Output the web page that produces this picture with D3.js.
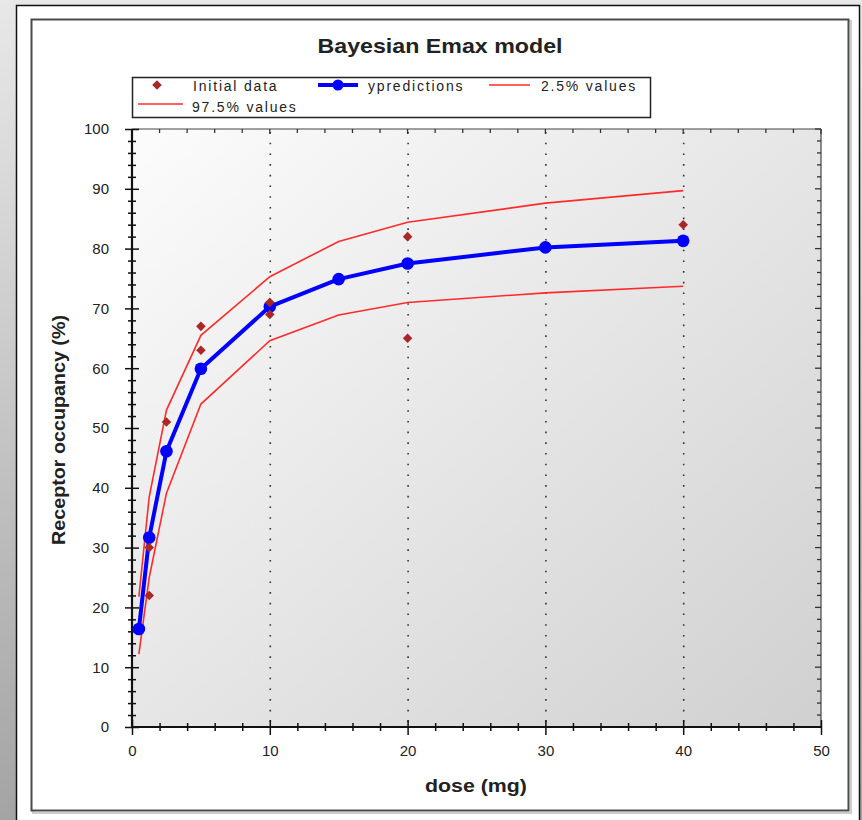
<!DOCTYPE html>
<html>
<head>
<meta charset="utf-8">
<script src="https://cdn.jsdelivr.net/npm/d3@7"></script>
<style>
  html, body { margin: 0; padding: 0; }
  body { width: 862px; height: 820px; overflow: hidden; }
  text { font-family: "Liberation Sans", Arial, sans-serif; }
</style>
</head>
<body>
<div id="chart"></div>
<script>
// dose levels and values
var obsDose = [1.25, 1.25, 2.5, 5, 5, 10, 10, 20, 20, 40];
var obsValue = [30, 22, 51, 67, 63, 71, 69, 82, 65, 84];

var predDose = [0.5, 1.25, 2.5, 5, 10, 15, 20, 30, 40];
var yPred = [16.4, 31.7, 46.1, 59.9, 70.3, 74.9, 77.5, 80.2, 81.3];
var lower025 = [12.2, 25, 39.1, 54.0, 64.6, 68.9, 71.0, 72.6, 73.7];
var upper975 = [21.8, 38.5, 53.0, 65.5, 75.3, 81.2, 84.4, 87.6, 89.7];

var xMajor = [0, 10, 20, 30, 40, 50];
var yMajor = [0, 10, 20, 30, 40, 50, 60, 70, 80, 90, 100];
var gridDoses = [10, 20, 30, 40];

var W = 862, H = 820;
var pLeft = 132, pRight = 821, pTop = 129, pBottom = 727;

var svg = d3.select("#chart").append("svg")
    .attr("width", W)
    .attr("height", H);

var defs = svg.append("defs");
var pageGrad = defs.append("linearGradient").attr("id", "pageGrad")
    .attr("x1", 0).attr("y1", 0).attr("x2", 0).attr("y2", 1);
pageGrad.append("stop").attr("offset", "0%").attr("stop-color", "#e8e8e8");
pageGrad.append("stop").attr("offset", "100%").attr("stop-color", "#a4a4a4");

var plotGrad = defs.append("linearGradient").attr("id", "plotGrad")
    .attr("x1", 0).attr("y1", 0).attr("x2", 1).attr("y2", 1);
plotGrad.append("stop").attr("offset", "0%").attr("stop-color", "#fcfcfc");
plotGrad.append("stop").attr("offset", "100%").attr("stop-color", "#d0d0d0");

// page background + white panel + frame
svg.append("rect").attr("width", W).attr("height", H).attr("fill", "url(#pageGrad)");
svg.append("rect")
    .attr("x", 16.5).attr("y", 5.5).attr("width", 843).attr("height", 830)
    .attr("fill", "#fff").attr("stroke", "#111").attr("stroke-width", 1.5);
svg.append("rect")
    .attr("x", 33).attr("y", 21).attr("width", 818).attr("height", 792)
    .attr("fill", "none").attr("stroke", "#ccc").attr("stroke-width", 2);
svg.append("rect")
    .attr("x", 31.5).attr("y", 19.5).attr("width", 817).attr("height", 791)
    .attr("fill", "#fff").attr("stroke", "#4a4a4a").attr("stroke-width", 2);

var x = d3.scaleLinear().domain([0, 50]).range([pLeft, pRight]);
var y = d3.scaleLinear().domain([0, 100]).range([pBottom, pTop]);

// plot area
svg.append("rect")
    .attr("x", pLeft).attr("y", pTop)
    .attr("width", pRight - pLeft).attr("height", pBottom - pTop)
    .attr("fill", "url(#plotGrad)");

// dotted vertical grid
svg.append("g").selectAll("line").data(gridDoses).enter().append("line")
    .attr("x1", function(d) { return x(d) + 0.5; })
    .attr("x2", function(d) { return x(d) + 0.5; })
    .attr("y1", pTop + 3).attr("y2", pBottom)
    .attr("stroke", "#333").attr("stroke-width", 1.6)
    .attr("stroke-dasharray", "1.6,9.1");

// top and right border with inward ticks
var minorX = d3.range(0, 51, 2);
var minorY = d3.range(0, 101, 2);
svg.append("line").attr("x1", pLeft).attr("x2", pRight).attr("y1", pTop).attr("y2", pTop)
    .attr("stroke", "#444").attr("stroke-width", 1.2);
svg.append("line").attr("x1", pRight).attr("x2", pRight).attr("y1", pTop).attr("y2", pBottom)
    .attr("stroke", "#444").attr("stroke-width", 1.2);
svg.append("g").selectAll("line").data(minorX).enter().append("line")
    .attr("x1", function(d) { return x(d); }).attr("x2", function(d) { return x(d); })
    .attr("y1", pTop).attr("y2", function(d) { return pTop + (d % 10 === 0 ? 5 : 4); })
    .attr("stroke", "#333").attr("stroke-width", 1.3);
svg.append("g").selectAll("line").data(minorY).enter().append("line")
    .attr("y1", function(d) { return y(d); }).attr("y2", function(d) { return y(d); })
    .attr("x1", pRight).attr("x2", function(d) { return pRight - (d % 10 === 0 ? 6 : 4); })
    .attr("stroke", "#333").attr("stroke-width", 1.3);

// left axis
var yAxisMinor = svg.append("g").attr("transform", "translate(" + pLeft + ",0)")
    .call(d3.axisLeft(y).tickValues(minorY.filter(function(d) { return d % 10 !== 0; }))
        .tickSize(4).tickFormat(""));
yAxisMinor.selectAll(".tick line").attr("x2", -4).attr("x1", 4)
    .attr("stroke", "#111").attr("stroke-width", 1.5);
yAxisMinor.select(".domain").remove();

var yAxis = svg.append("g").attr("transform", "translate(" + pLeft + ",0)")
    .call(d3.axisLeft(y).tickValues(yMajor).tickSize(7).tickPadding(16));
yAxis.selectAll(".tick line").attr("x1", 7).attr("stroke", "#111").attr("stroke-width", 1.5);
yAxis.select(".domain").remove();
yAxis.selectAll("text").attr("font-size", 15).attr("fill", "#222")
    .attr("font-family", "'Liberation Sans', Arial, sans-serif");

// bottom axis
var xAxisMinor = svg.append("g").attr("transform", "translate(0," + pBottom + ")")
    .call(d3.axisBottom(x).tickValues(minorX.filter(function(d) { return d % 10 !== 0; }))
        .tickSize(4).tickFormat(""));
xAxisMinor.selectAll(".tick line").attr("y1", -4).attr("y2", 4)
    .attr("stroke", "#111").attr("stroke-width", 1.5);
xAxisMinor.select(".domain").remove();

var xAxis = svg.append("g").attr("transform", "translate(0," + pBottom + ")")
    .call(d3.axisBottom(x).tickValues(xMajor).tickSize(8).tickPadding(10));
xAxis.selectAll(".tick line").attr("y1", -7).attr("stroke", "#111").attr("stroke-width", 1.5);
xAxis.select(".domain").remove();
xAxis.selectAll("text").attr("font-size", 15).attr("fill", "#222")
    .attr("font-family", "'Liberation Sans', Arial, sans-serif");

svg.append("line").attr("x1", pLeft).attr("x2", pLeft).attr("y1", pTop).attr("y2", pBottom + 1)
    .attr("stroke", "#111").attr("stroke-width", 2.2);
svg.append("line").attr("x1", pLeft - 1).attr("x2", pRight + 1).attr("y1", pBottom).attr("y2", pBottom)
    .attr("stroke", "#111").attr("stroke-width", 2.2);

// series
var line = d3.line()
    .x(function(d) { return x(d[0]); })
    .y(function(d) { return y(d[1]); });

[lower025, upper975].forEach(function(vals) {
    svg.append("path")
        .datum(predDose.map(function(d, i) { return [d, vals[i]]; }))
        .attr("d", line)
        .attr("fill", "none").attr("stroke", "#ff2b2b").attr("stroke-width", 1.6);
});

var predPts = predDose.map(function(d, i) { return [d, yPred[i]]; });
svg.append("path").datum(predPts).attr("d", line)
    .attr("fill", "none").attr("stroke", "#0000ff").attr("stroke-width", 4)
    .attr("stroke-linejoin", "round");
svg.append("g").selectAll("circle").data(predPts).enter().append("circle")
    .attr("cx", function(d) { return x(d[0]); })
    .attr("cy", function(d) { return y(d[1]); })
    .attr("r", 6.3).attr("fill", "#0000ff");

var diamond = d3.symbol().type(d3.symbolSquare).size(46);
svg.append("g").selectAll("path").data(obsDose).enter().append("path")
    .attr("d", diamond)
    .attr("transform", function(d, i) {
        return "translate(" + x(d) + "," + y(obsValue[i]) + ") rotate(45)";
    })
    .attr("fill", "#a82828");

// titles
svg.append("text").attr("x", 440).attr("y", 53).attr("text-anchor", "middle")
    .attr("font-size", 21).attr("font-weight", "bold").attr("fill", "#222")
    .attr("textLength", 245).attr("lengthAdjust", "spacingAndGlyphs")
    .text("Bayesian Emax model");
svg.append("text").attr("x", 476).attr("y", 792).attr("text-anchor", "middle")
    .attr("font-size", 18).attr("font-weight", "bold").attr("fill", "#222")
    .attr("textLength", 102).attr("lengthAdjust", "spacingAndGlyphs")
    .text("dose (mg)");
svg.append("text").attr("transform", "translate(65,430) rotate(-90)")
    .attr("text-anchor", "middle")
    .attr("font-size", 18).attr("font-weight", "bold").attr("fill", "#222")
    .attr("textLength", 230).attr("lengthAdjust", "spacingAndGlyphs")
    .text("Receptor occupancy (%)");

// legend
var legend = svg.append("g");
legend.append("rect").attr("x", 132.5).attr("y", 77.5).attr("width", 518).attr("height", 40)
    .attr("fill", "#fff").attr("stroke", "#222").attr("stroke-width", 1.5);

function legendText(tx, ty, label) {
    legend.append("text").attr("x", tx).attr("y", ty)
        .attr("font-size", 14).attr("letter-spacing", 1.8).attr("fill", "#222")
        .text(label);
}
legend.append("path").attr("d", diamond)
    .attr("transform", "translate(157,85) rotate(45)").attr("fill", "#a82828");
legendText(193, 91, "Initial data");
legend.append("line").attr("x1", 318).attr("x2", 358).attr("y1", 85).attr("y2", 85)
    .attr("stroke", "#0000ff").attr("stroke-width", 4);
legend.append("circle").attr("cx", 338).attr("cy", 85).attr("r", 5.5).attr("fill", "#0000ff");
legendText(368, 91, "ypredictions");
legend.append("line").attr("x1", 489).attr("x2", 530).attr("y1", 85).attr("y2", 85)
    .attr("stroke", "#ff2b2b").attr("stroke-width", 1.6);
legendText(541, 91, "2.5% values");
legend.append("line").attr("x1", 138).attr("x2", 183).attr("y1", 104).attr("y2", 104)
    .attr("stroke", "#ff2b2b").attr("stroke-width", 1.6);
legendText(192, 112, "97.5% values");
</script>
</body>
</html>
